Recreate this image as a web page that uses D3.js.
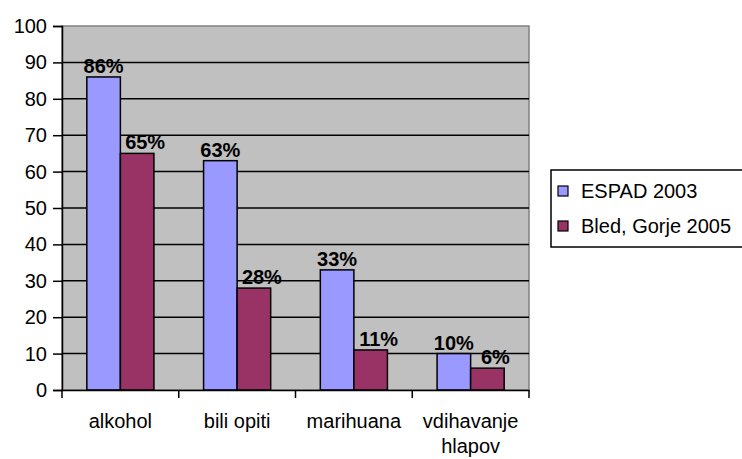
<!DOCTYPE html>
<html>
<head>
<meta charset="utf-8">
<script src="https://cdn.jsdelivr.net/npm/d3@7"></script>
<style>
  body { margin: 0; background: #fff; }
  svg { display: block; font-family: "Liberation Sans", Arial, sans-serif; }
  svg text { font-family: "Liberation Sans", Arial, sans-serif; }
</style>
</head>
<body>
<div id="chart"></div>
<script>
const categories = ["alkohol", "bili opiti", "marihuana", "vdihavanje hlapov"];
const seriesNames = ["ESPAD 2003", "Bled, Gorje 2005"];
const espad2003 = [86, 63, 33, 10];
const bledGorje2005 = [65, 28, 11, 6];
const yTicks = [0, 10, 20, 30, 40, 50, 60, 70, 80, 90, 100];
const COLORS = ["#9999FF", "#993366"];

const W = 742, H = 459;
const plot = { left: 62, top: 26, right: 529, bottom: 390 };
const FS = 20;

const svg = d3.select("#chart").append("svg").attr("width", W).attr("height", H);

const x = d3.scaleBand().domain(categories).range([plot.left, plot.right]);
const xs = d3.scaleBand().domain(seriesNames).range([0, x.bandwidth()]).paddingInner(0).paddingOuter(0.74);
const y = d3.scaleLinear().domain([0, 100]).range([plot.bottom, plot.top]);

// plot background
svg.append("rect")
  .attr("x", plot.left).attr("y", plot.top)
  .attr("width", plot.right - plot.left).attr("height", plot.bottom - plot.top)
  .attr("fill", "#C0C0C0").attr("stroke", "#808080").attr("stroke-width", 1.5);

// gridlines
svg.append("g").selectAll("line").data(yTicks.filter(d => d > 0 && d < 100)).enter()
  .append("line")
  .attr("x1", plot.left).attr("x2", plot.right)
  .attr("y1", d => y(d)).attr("y2", d => y(d))
  .attr("stroke", "#000").attr("stroke-width", 1.5);

// bars
const series = [espad2003, bledGorje2005];
const groups = svg.append("g").selectAll("g").data(categories).enter()
  .append("g").attr("transform", d => `translate(${x(d)},0)`);

const cells = (c, i) => seriesNames.map((s, k) => ({ s, v: series[k][i], k }));

groups.selectAll("rect").data(cells).enter().append("rect")
  .attr("x", d => xs(d.s)).attr("width", xs.bandwidth())
  .attr("y", d => y(d.v)).attr("height", d => y(0) - y(d.v))
  .attr("fill", d => COLORS[d.k]).attr("stroke", "#000").attr("stroke-width", 1.5);

groups.selectAll("text").data(cells).enter().append("text")
  .attr("x", d => xs(d.s) + xs.bandwidth() / 2 + (d.k === 1 ? 8 : 0))
  .attr("y", d => y(d.v) - 4)
  .attr("text-anchor", "middle")
  .attr("font-weight", "bold").attr("font-size", FS)
  .text(d => d.v + "%");

// y axis
const yAxis = svg.append("g")
  .attr("transform", `translate(${plot.left},0)`)
  .call(d3.axisLeft(y).tickValues(yTicks).tickSize(9).tickPadding(6).tickFormat(d3.format("d")));
yAxis.attr("font-size", FS).attr("font-family", null);
yAxis.select(".domain").attr("stroke", "#000").attr("stroke-width", 1.5);
yAxis.selectAll(".tick line").attr("stroke-width", 1.5);
yAxis.selectAll("text").attr("fill", "#000");

// x axis
const xAxis = svg.append("g")
  .attr("transform", `translate(0,${plot.bottom})`)
  .call(d3.axisBottom(x).tickSize(0).tickFormat(""));
xAxis.select(".domain").attr("stroke", "#000").attr("stroke-width", 1.5);
xAxis.selectAll(".tick").remove();

// category boundary ticks
svg.append("g").selectAll("line")
  .data(categories.concat(["end"])).enter().append("line")
  .attr("x1", d => d === "end" ? plot.right : x(d))
  .attr("x2", d => d === "end" ? plot.right : x(d))
  .attr("y1", plot.bottom).attr("y2", plot.bottom + 8)
  .attr("stroke", "#000").attr("stroke-width", 1.5);

// category labels (last one wraps)
const xLabels = svg.append("g").selectAll("text").data(categories).enter()
  .append("text")
  .attr("text-anchor", "middle")
  .attr("font-size", FS)
  .attr("y", plot.bottom + 38);
xLabels.each(function (d) {
  const words = d === "vdihavanje hlapov" ? ["vdihavanje", "hlapov"] : [d];
  const t = d3.select(this);
  words.forEach((w, i) => {
    t.append("tspan")
      .attr("x", x(d) + x.bandwidth() / 2)
      .attr("dy", i === 0 ? 0 : 25)
      .text(w);
  });
});

// legend
const legend = svg.append("g").attr("transform", "translate(551,170)");
legend.append("rect").attr("x", 0).attr("y", 0).attr("width", 200).attr("height", 77)
  .attr("fill", "#fff").attr("stroke", "#000").attr("stroke-width", 1.5);
seriesNames.forEach((s, i) => {
  const gy = 21 + i * 35;
  legend.append("rect").attr("x", 7).attr("y", gy - 5).attr("width", 10).attr("height", 10)
    .attr("fill", COLORS[i]).attr("stroke", "#000").attr("stroke-width", 1.2);
  legend.append("text").attr("x", 30).attr("y", gy + 7)
    .attr("font-size", FS).text(s);
});
</script>
</body>
</html>
